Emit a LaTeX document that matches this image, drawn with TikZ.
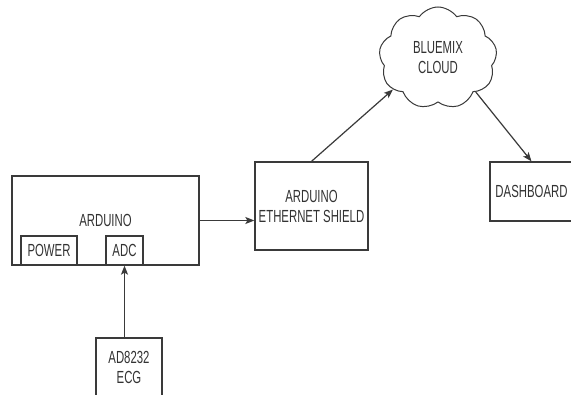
\documentclass[tikz,border=0pt]{standalone}
\usepackage{fontspec}
\newfontfamily\narrowsans[FakeStretch=0.65]{Liberation Sans}
\usetikzlibrary{shapes.symbols,arrows.meta,calc}
\definecolor{linec}{HTML}{3A3A3A}
\definecolor{textc}{HTML}{333333}
\tikzset{
  blk/.style={draw=linec, line width=1.3pt, rectangle, inner sep=0pt, align=center,
              font=\narrowsans\fontsize{17.5}{20}\selectfont, text=textc},
  cloudbox/.style={draw=linec, line width=1pt, cloud, cloud puffs=9, cloud puff arc=110,
              cloud ignores aspect, inner sep=0pt, align=center,
              font=\narrowsans\fontsize{17.5}{20}\selectfont, text=textc},
  conn/.style={draw=linec, line width=1.2pt, -{Stealth[length=9pt,width=7pt,inset=2pt]}},
}
\begin{document}
\begin{tikzpicture}[x=1pt,y=-1pt]
\useasboundingbox[fill=white] (0,0) rectangle (571,395);
\node[blk, minimum width=187pt, minimum height=89pt] (arduino) at (105.5,220.5) {ARDUINO};
\node[blk, minimum width=56pt, minimum height=29pt] (power) at (49,250.5) {POWER};
\node[blk, minimum width=37pt, minimum height=29pt] (adc) at (124.5,250.5) {ADC};
\node[blk, minimum width=113pt, minimum height=88pt] (shield) at (311.5,206) {ARDUINO\\ETHERNET SHIELD};
\node[cloudbox, minimum width=118pt, minimum height=102pt] (cloud) at (438,58) {BLUEMIX\\CLOUD};
\node[blk, minimum width=83pt, minimum height=59pt] (dash) at (531.5,191.5) {DASHBOARD};
\node[blk, minimum width=66pt, minimum height=59pt] (ecg) at (129,367.5) {AD8232\\ECG};
\coordinate (ain) at (arduino.east -| shield.west);
\coordinate (ecgtop) at (adc.south |- ecg.north);
\draw[conn] (arduino.east |- ain) -- (ain);
\draw[conn] (ecgtop) -- (adc.south);
\draw[conn] (shield.north) -- (cloud.215);
\draw[conn] (cloud.318) -- (dash.north);
\end{tikzpicture}
\end{document}
